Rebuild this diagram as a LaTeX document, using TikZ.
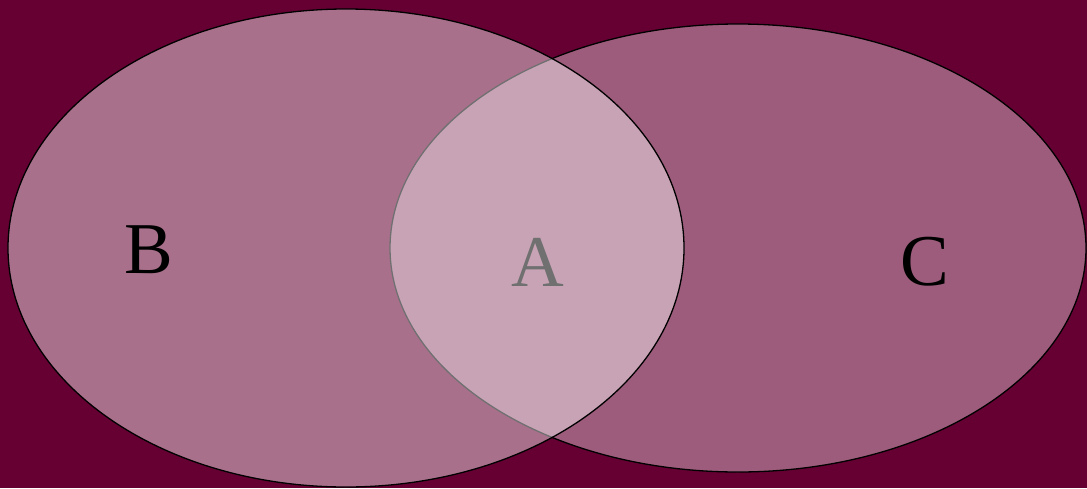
\documentclass[tikz,border=0pt]{standalone}
\usepackage{fontspec}
\setmainfont{Liberation Serif}
\definecolor{plum}{HTML}{660033}
\tikzset{
  setshape/.style={draw=black,line width=1.3pt,fill=white},
  setlabel/.style={font=\fontsize{73}{88}\selectfont,inner sep=0pt}
}
\begin{document}
\begin{tikzpicture}[x=1pt,y=-1pt]
\fill[plum] (0,0) rectangle (1087,488);
\useasboundingbox (0,0) rectangle (1087,488);
\draw[setshape,fill opacity=0.36] (738,248) ellipse [x radius=348,y radius=224];
\node[setlabel] (a) at (538,262) {A};
\draw[setshape,fill opacity=0.44] (346,248) ellipse [x radius=338,y radius=239];
\node[setlabel] (b) at (149,250) {B};
\node[setlabel] (c) at (925,262) {C};
\end{tikzpicture}
\end{document}
